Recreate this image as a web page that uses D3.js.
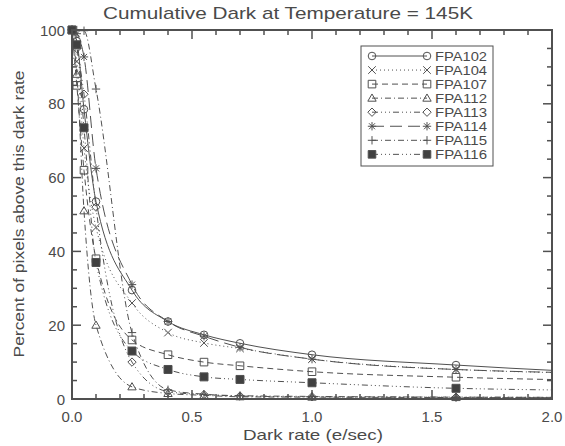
<!DOCTYPE html>
<html>
<head>
<meta charset="utf-8">
<script src="https://cdn.jsdelivr.net/npm/d3@7"></script>
<style>
  html, body { margin: 0; padding: 0; background: #fff; }
  svg { display: block; }
  text { font-family: "Liberation Sans", "DejaVu Sans", sans-serif; fill: #4a4a4a; }
</style>
</head>
<body>
<script>
// Dark rate sample points (e/sec)
const rates = [0, 0.02, 0.05, 0.1, 0.25, 0.4, 0.55, 0.7, 1.0, 1.6, 2.5];

// Percent of pixels above each dark rate, one list per focal plane array
const fpa102 = [100, 97, 78.5, 53.5, 29.5, 21, 17.4, 15.1, 12, 9.2, 6.3];
const fpa104 = [100, 91.5, 68, 46.5, 26, 18, 15.2, 13.7, 10.8, 8, 6.7];
const fpa107 = [100, 85, 62, 38, 16, 12, 10, 9, 7.4, 5.9, 4.8];
const fpa112 = [100, 88, 51, 20, 3.3, 1.5, 1, 0.6, 0.5, 0.4, 0.3];
const fpa113 = [100, 95, 82.6, 52, 10, 2, 1.2, 0.8, 0.6, 0.5, 0.4];
const fpa114 = [100, 99, 92.7, 62.5, 31, 21, 17, 14, 10.8, 8, 6.8];
const fpa115 = [100, 100, 99.8, 84, 18, 2.5, 1.3, 0.9, 0.7, 0.5, 0.4];
const fpa116 = [100, 96, 73.5, 37, 13, 8, 6, 5.3, 4.4, 2.9, 2.2];

const names = ["FPA102", "FPA104", "FPA107", "FPA112", "FPA113", "FPA114", "FPA115", "FPA116"];
const seriesValues = [fpa102, fpa104, fpa107, fpa112, fpa113, fpa114, fpa115, fpa116];
const symbolKinds = ["circle", "x", "square", "triangle", "diamond", "asterisk", "plus", "filledSquare"];
const dashStyles = ["none", "1,3", "6,4", "6,3,1,3", "6,3,1,3,1,3,1,3", "12,6", "6,3,1,3", "6,3,1,3,1,3,1,3"];

const xTicks = [0, 0.5, 1.0, 1.5, 2.0];
const yTicks = [0, 20, 40, 60, 80, 100];

const W = 565, H = 446;
const ink = "#505050";
const margin = { left: 72, right: 13, top: 30, bottom: 47 };

const svg = d3.select("body").append("svg").attr("width", W).attr("height", H);

const x = d3.scaleLinear().domain([0, 2]).range([margin.left, W - margin.right]);
const y = d3.scaleLinear().domain([0, 100]).range([H - margin.bottom, margin.top]);

svg.append("defs").append("clipPath").attr("id", "plotclip")
  .append("rect")
  .attr("x", x(0)).attr("y", y(100))
  .attr("width", x(2) - x(0)).attr("height", y(0) - y(100));

// Marker shapes, drawn around the origin
function markerPath(kind, s) {
  switch (kind) {
    case "circle": return d3.path ? null : null;
    case "x": return `M${-s},${-s}L${s},${s}M${-s},${s}L${s},${-s}`;
    case "square":
    case "filledSquare": return `M${-s},${-s}H${s}V${s}H${-s}Z`;
    case "triangle": return `M0,${-s * 1.1}L${s * 1.1},${s * 0.8}L${-s * 1.1},${s * 0.8}Z`;
    case "diamond": return `M0,${-s * 1.1}L${s * 1.1},0L0,${s * 1.1}L${-s * 1.1},0Z`;
    case "asterisk": {
      const a = s * 1.1, b = a * 0.72;
      return `M${-a},0H${a}M${-b},${-b}L${b},${b}M${-b},${b}L${b},${-b}M0,${-a}V${a}`;
    }
    case "plus": return `M${-s * 1.1},0H${s * 1.1}M0,${-s * 1.1}V${s * 1.1}`;
  }
}

function drawMarker(g, kind, cx, cy, s) {
  if (kind === "circle") {
    g.append("circle").attr("cx", cx).attr("cy", cy).attr("r", s)
      .attr("fill", "none").attr("stroke", ink).attr("stroke-width", 1);
  } else {
    g.append("path").attr("transform", `translate(${cx},${cy})`)
      .attr("d", markerPath(kind, s))
      .attr("fill", kind === "filledSquare" ? "#404040" : "none")
      .attr("stroke", ink).attr("stroke-width", 1);
  }
}

// Curves
const line = d3.line()
  .x(d => x(d[0]))
  .y(d => y(d[1]))
  .curve(d3.curveMonotoneX);

const plot = svg.append("g").attr("clip-path", "url(#plotclip)");
seriesValues.forEach((vals, i) => {
  const pts = rates.map((r, k) => [r, vals[k]]);
  plot.append("path")
    .attr("d", line(pts))
    .attr("fill", "none")
    .attr("stroke", ink)
    .attr("stroke-width", 1)
    .attr("stroke-dasharray", dashStyles[i]);
});

const marks = svg.append("g");
seriesValues.forEach((vals, i) => {
  rates.forEach((r, k) => {
    if (r > 2) return;
    drawMarker(marks, symbolKinds[i], x(r), y(vals[k]), symbolKinds[i] === "filledSquare" ? 4 : 3.8);
  });
});

// Frame with inward ticks on all four sides
const frame = svg.append("g").attr("stroke", ink);
frame.append("rect")
  .attr("x", x(0)).attr("y", y(100))
  .attr("width", x(2) - x(0)).attr("height", y(0) - y(100))
  .attr("fill", "none").attr("stroke-width", 2);

const xMinor = d3.range(0, 2.0001, 0.1);
const yMinor = d3.range(0, 100.001, 5);
xMinor.forEach(v => {
  const major = xTicks.some(t => Math.abs(t - v) < 1e-6);
  const len = major ? 9 : 5;
  frame.append("line").attr("x1", x(v)).attr("x2", x(v)).attr("y1", y(0)).attr("y2", y(0) - len).attr("stroke-width", 1.5);
  frame.append("line").attr("x1", x(v)).attr("x2", x(v)).attr("y1", y(100)).attr("y2", y(100) + len).attr("stroke-width", 1.5);
});
yMinor.forEach(v => {
  const major = yTicks.some(t => Math.abs(t - v) < 1e-6);
  const len = major ? 9 : 5;
  frame.append("line").attr("y1", y(v)).attr("y2", y(v)).attr("x1", x(0)).attr("x2", x(0) + len).attr("stroke-width", 1.5);
  frame.append("line").attr("y1", y(v)).attr("y2", y(v)).attr("x1", x(2)).attr("x2", x(2) - len).attr("stroke-width", 1.5);
});

// Tick labels
svg.append("g").selectAll("text").data(xTicks).join("text")
  .attr("x", d => x(d)).attr("y", y(0) + 23)
  .attr("text-anchor", "middle").attr("font-size", 15)
  .text(d => d.toFixed(1));

svg.append("g").selectAll("text").data(yTicks).join("text")
  .attr("x", x(0) - 7).attr("y", d => y(d) + 5.5)
  .attr("text-anchor", "end").attr("font-size", 15)
  .text(d => d);

// Titles
svg.append("text")
  .attr("x", 288).attr("y", 19)
  .attr("text-anchor", "middle").attr("font-size", 17)
  .attr("textLength", 370).attr("lengthAdjust", "spacingAndGlyphs")
  .text("Cumulative Dark at Temperature = 145K");

svg.append("text")
  .attr("x", 313).attr("y", 440)
  .attr("text-anchor", "middle").attr("font-size", 15)
  .attr("textLength", 140).attr("lengthAdjust", "spacingAndGlyphs")
  .text("Dark rate (e/sec)");

svg.append("text")
  .attr("transform", `translate(24,214) rotate(-90)`)
  .attr("text-anchor", "middle").attr("font-size", 15)
  .attr("textLength", 287).attr("lengthAdjust", "spacingAndGlyphs")
  .text("Percent of pixels above this dark rate");

// Legend
const legend = svg.append("g");
legend.append("rect")
  .attr("x", 361).attr("y", 46).attr("width", 132).attr("height", 120)
  .attr("fill", "#fff").attr("stroke", ink).attr("stroke-width", 1);
names.forEach((name, i) => {
  const ly = 56 + i * 14.05;
  legend.append("line")
    .attr("x1", 372).attr("x2", 427).attr("y1", ly).attr("y2", ly)
    .attr("stroke", ink).attr("stroke-width", 1)
    .attr("stroke-dasharray", dashStyles[i]);
  drawMarker(legend, symbolKinds[i], 372, ly, 3.8);
  drawMarker(legend, symbolKinds[i], 427, ly, 3.8);
  legend.append("text")
    .attr("x", 435).attr("y", ly + 5)
    .attr("font-size", 13)
    .attr("textLength", 52).attr("lengthAdjust", "spacingAndGlyphs")
    .text(name);
});
</script>
</body>
</html>
